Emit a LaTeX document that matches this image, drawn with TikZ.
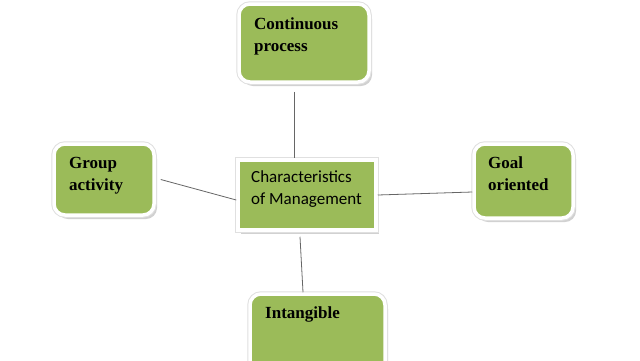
\documentclass[tikz,border=0pt]{standalone}
\usepackage{fontspec}
\setmainfont{Liberation Serif}
\newfontfamily\calfont{Carlito}
\usetikzlibrary{shadows}
\definecolor{tilegreen}{HTML}{9BBB59}

\begin{document}
\begin{tikzpicture}[x=1pt,y=-1pt,
  tile/.style={fill=tilegreen,draw=white,line width=3.5pt,rounded corners=11pt,
    drop shadow={shadow xshift=3pt,shadow yshift=-4pt,fill=black!18,opacity=1},
    preaction={draw=black!12,line width=5.5pt},inner sep=0pt},
  plain tile/.style={tile,rounded corners=0pt},
  lbl/.style={font=\fontsize{17}{22}\selectfont\bfseries,align=left,
    inner sep=0pt,anchor=base west},
  link/.style={draw=black!60,line width=0.8pt}]
  % page
  \useasboundingbox[fill=white](0,0) rectangle (640,360);
  % tiles
  \node[tile,minimum width=130pt,minimum height=78pt] (cont) at (304,43) {};
  \node[plain tile,minimum width=138pt,minimum height=70pt] (char) at (307,195) {};
  \node[tile,minimum width=100pt,minimum height=71pt] (group) at (104,179.5) {};
  \node[tile,minimum width=99pt,minimum height=74pt] (goal) at (523.5,181) {};
  \node[tile,minimum width=135pt,minimum height=80pt] (intang) at (317.5,334) {};
  % texts (base = last line)
  \node[lbl] (contT) at (254,51) {Continuous\\process};
  \node[lbl,font=\fontsize{17}{22}\selectfont\calfont] (charT) at (251,204)
    {Characteristics\\of Management};
  \node[lbl] (groupT) at (69,190) {Group\\activity};
  \node[lbl] (goalT) at (488,190) {Goal\\oriented};
  \node[lbl] (intangT) at (265,318) {Intangible};
  % links
  \draw[link]([xshift=-10pt,yshift=-8pt]cont.south)--([xshift=-13pt]char.north);
  \draw[link]([xshift=5pt]group.east)--([yshift=-5pt]char.west);
  \draw[link](char.east)--([yshift=-11pt]goal.west);
  \draw[link]([xshift=-7pt,yshift=-5pt]char.south)--([xshift=-14.5pt]intang.north);
\end{tikzpicture}
\end{document}
